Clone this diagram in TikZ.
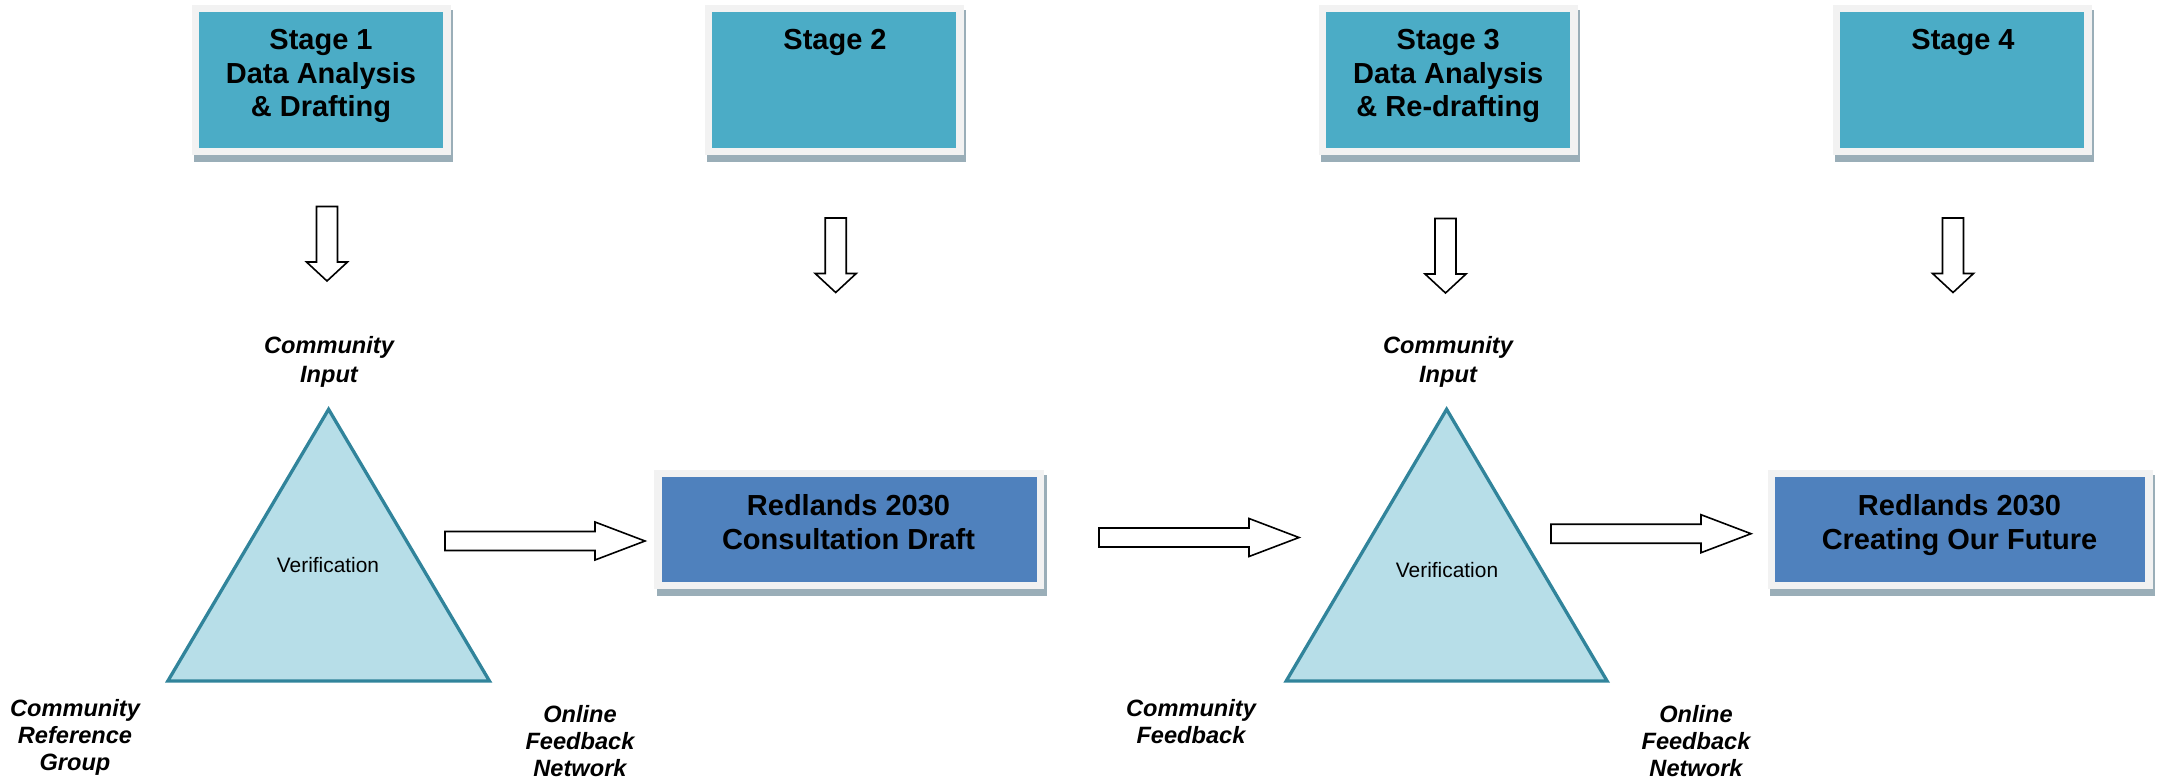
\documentclass[tikz,border=0pt]{standalone}
\usepackage{fontspec}
\setmainfont{Liberation Sans}
\definecolor{stageteal}{HTML}{4BACC6}
\definecolor{outblue}{HTML}{4F81BD}
\definecolor{framegray}{HTML}{F2F2F2}
\definecolor{shadegray}{HTML}{9AAEB8}
\definecolor{trifill}{HTML}{B7DEE8}
\definecolor{triline}{HTML}{31849B}
\newcommand{\mkbox}[6]{%
  \fill[shadegray] ({#2-#4/2-5},{#3-#5/2-2}) rectangle ({#2+#4/2+10},{#3+#5/2+14});
  \fill[framegray] ({#2-#4/2-7.5},{#3-#5/2-7.5}) rectangle ({#2+#4/2+7.5},{#3+#5/2+7});
  \node[fill=#6, draw=none, inner sep=0pt, minimum width=#4pt, minimum height=#5pt] (#1) at (#2,#3) {};
}
\begin{document}
\begin{tikzpicture}[x=1pt,y=-1pt,
  stagetext/.style={align=center, inner sep=0pt, font=\fontsize{29}{33.5}\selectfont\bfseries},
  outtext/.style={align=center, inner sep=0pt, font=\fontsize{29}{34}\selectfont\bfseries},
  toplbl/.style={align=center, inner sep=0pt, font=\fontsize{23.6}{29}\selectfont\bfseries\itshape},
  botlbl/.style={align=center, inner sep=0pt, font=\fontsize{23.6}{27}\selectfont\bfseries\itshape},
  vertext/.style={inner sep=0pt, font=\fontsize{20.9}{25}\selectfont},
  blockarr/.style={draw=black, fill=white, line width=1.6pt, line join=miter},
  tri/.style={draw=triline, fill=trifill, line width=3.3pt, line join=miter},
  rarr/.pic={\draw[blockarr] (0,-9.5) -- (150,-9.5) -- (150,-19) -- (200,0) -- (150,19) -- (150,9.5) -- (0,9.5) -- cycle;},
  downarr/.pic={\draw[blockarr] (-10.5,0) -- (10.5,0) -- (10.5,55.5) -- (20.5,55.5) -- (0,74.5) -- (-20.5,55.5) -- (-10.5,55.5) -- cycle;}
]
\useasboundingbox (0,0) rectangle (2157,782);

% stage boxes
\mkbox{s1}{321}{80}{244}{136}{stageteal}
\mkbox{s2}{834.3}{80}{244}{136}{stageteal}
\mkbox{s3}{1448.4}{80}{244}{136}{stageteal}
\mkbox{s4}{1962}{80}{244}{136}{stageteal}

\node[stagetext, anchor=north] (t1) at (321,26) {\strut Stage 1\\\strut Data Analysis\\\strut \& Drafting};
\node[stagetext, anchor=base] (t2) at (835,49.5) {Stage 2};
\node[stagetext, anchor=north] (t3) at (1448.3,26) {\strut Stage 3\\\strut Data Analysis\\\strut \& Re-drafting};
\node[stagetext, anchor=base] (t4) at (1963,49.5) {Stage 4};

% down arrows
\pic (d1) at (327,206.5) {downarr};
\pic (d2) at (835.7,218) {downarr};
\pic (d3) at (1445.5,218.5) {downarr};
\pic (d4) at (1953,218) {downarr};

% triangles
\coordinate (v1a) at (328.6,409.3);
\coordinate (v1b) at (489.4,680.9);
\coordinate (v1c) at (167.9,680.9);
\draw[tri] (v1a) -- (v1b) -- (v1c) -- cycle;
\coordinate (v2a) at (1446.6,409.3);
\coordinate (v2b) at (1607.1,681);
\coordinate (v2c) at (1286.2,681);
\draw[tri] (v2a) -- (v2b) -- (v2c) -- cycle;
\node[vertext, anchor=base] (ver1) at (328,572.3) {Verification};
\node[vertext, anchor=base] (ver2) at (1447,577.7) {Verification};

% labels
\node[toplbl, anchor=north] (ci1) at (329,333) {\strut Community\\\strut Input};
\node[toplbl, anchor=north] (ci2) at (1448,333) {\strut Community\\\strut Input};
\node[botlbl, anchor=north] (crg) at (75,697.8) {\strut Community\\\strut Reference\\\strut Group};
\node[botlbl, anchor=north] (ofn1) at (580,703.6) {\strut Online\\\strut Feedback\\\strut Network};
\node[botlbl, anchor=north] (cf) at (1191,697.8) {\strut Community\\\strut Feedback};
\node[botlbl, anchor=north] (ofn2) at (1696,703.6) {\strut Online\\\strut Feedback\\\strut Network};

% output boxes
\mkbox{b1}{849.2}{529.5}{375}{104.4}{outblue}
\mkbox{b2}{1960}{529.5}{370}{104.4}{outblue}
\node[outtext, anchor=north] (bt1) at (848.5,491.2) {\strut Redlands 2030\\\strut Consultation Draft};
\node[outtext, anchor=north] (bt2) at (1959.5,491.2) {\strut Redlands 2030\\\strut Creating Our Future};

% right arrows
\pic (r1) at (445,541) {rarr};
\pic (r2) at (1099,537.5) {rarr};
\pic (r3) at (1551,533.7) {rarr};
\end{tikzpicture}
\end{document}
